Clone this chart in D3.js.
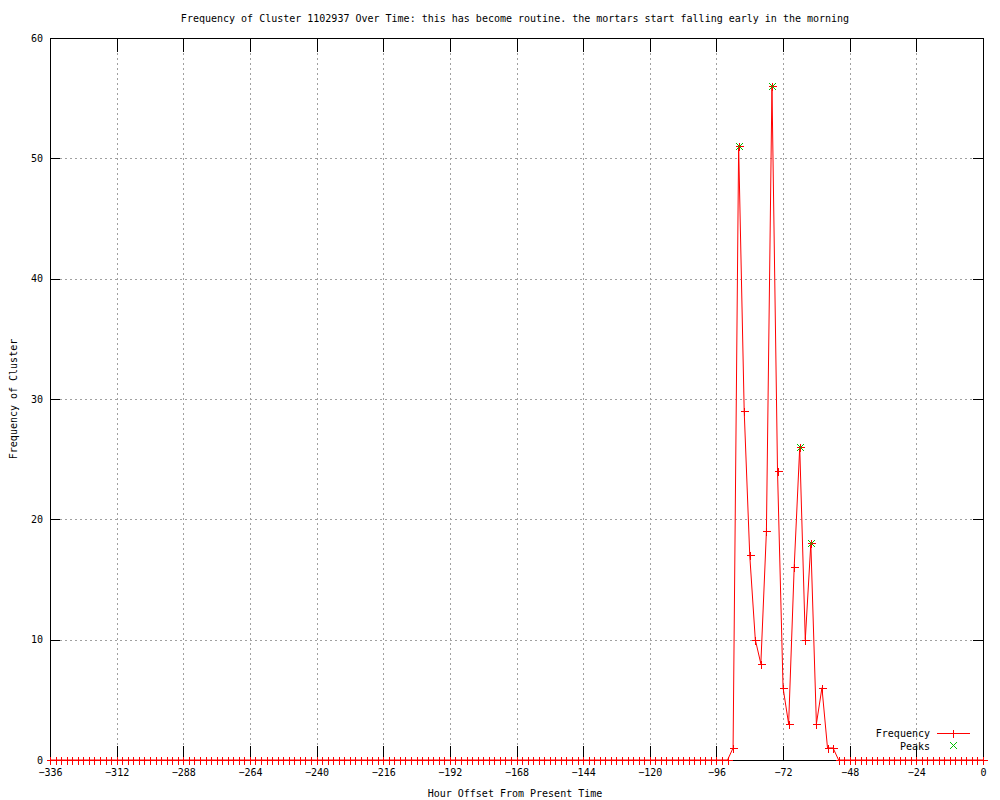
<!DOCTYPE html>
<meta charset="utf-8">
<style>
body { margin: 0; background: #fff; }
text { font-family: "DejaVu Sans Mono", monospace; font-size: 10px; fill: #000; }
.grid line { stroke: #a0a0a0; stroke-width: 1px; stroke-dasharray: 2,3; shape-rendering: crispEdges; }
.axis line { stroke: #000; shape-rendering: crispEdges; }
.axis path { display: none; }
.line { fill: none; stroke: red; stroke-width: 1px; }
</style>
<body>
<script src="https://d3js.org/d3.v7.min.js"></script>
<script>

// hour offsets, one point every 2 hours from -336 to 0
var hours = d3.range(-336, 1, 2);

// frequency per point (169 values, mostly zero)
var freq = [
  0,0,0,0,0,0,0,0,0,0, 0,0,0,0,0,0,0,0,0,0,
  0,0,0,0,0,0,0,0,0,0, 0,0,0,0,0,0,0,0,0,0,
  0,0,0,0,0,0,0,0,0,0, 0,0,0,0,0,0,0,0,0,0,
  0,0,0,0,0,0,0,0,0,0, 0,0,0,0,0,0,0,0,0,0,
  0,0,0,0,0,0,0,0,0,0, 0,0,0,0,0,0,0,0,0,0,
  0,0,0,0,0,0,0,0,0,0, 0,0,0,0,0,0,0,0,0,0,
  0,0,0,1,51,29,17,10,8,19, 56,24,6,3,16,26,10,18,3,6,
  1,1,0,0,0,0,0,0,0,0, 0,0,0,0,0,0,0,0,0,0,
  0,0,0,0,0,0,0,0,0
];

// detected peaks
var peakHours = [-88, -76, -66, -62];
var peakFreq  = [51, 56, 26, 18];

var xTicks = d3.range(-336, 1, 24);
var yTicks = [0, 10, 20, 30, 40, 50, 60];

var titleText = "Frequency of Cluster 1102937 Over Time: this has become routine. the mortars start falling early in the morning";

var margin = {top: 38, right: 17, bottom: 40, left: 50},
    width = 1000 - margin.left - margin.right,
    height = 800 - margin.top - margin.bottom;

var x = d3.scaleLinear().domain([-336, 0]).range([0, width]);
var y = d3.scaleLinear().domain([0, 60]).range([height, 0]);

var svg0 = d3.select("body").append("svg")
    .attr("width", 1000)
    .attr("height", 800);

var svg = svg0.append("g")
    .attr("transform", "translate(" + margin.left + "," + margin.top + ")");

// grid lines
svg.append("g").attr("class", "grid")
  .selectAll("line")
  .data(xTicks.slice(1, -1))
  .enter().append("line")
    .attr("x1", function(d) { return Math.round(x(d)) + 0.5; })
    .attr("x2", function(d) { return Math.round(x(d)) + 0.5; })
    .attr("y1", 0).attr("y2", height);

svg.append("g").attr("class", "grid")
  .selectAll("line")
  .data(yTicks.slice(1, -1))
  .enter().append("line")
    .attr("y1", function(d) { return Math.round(y(d)) + 0.5; })
    .attr("y2", function(d) { return Math.round(y(d)) + 0.5; })
    .attr("x1", 0).attr("x2", width);

// axes (ticks pointing inward), mirrored on top and right
svg.append("g")
    .attr("class", "axis")
    .attr("transform", "translate(0," + height + ")")
    .call(d3.axisBottom(x).tickValues(xTicks).tickSize(-14).tickPadding(9));

svg.append("g")
    .attr("class", "axis")
    .call(d3.axisTop(x).tickValues(xTicks).tickSize(-14).tickFormat(""));

svg.append("g")
    .attr("class", "axis")
    .call(d3.axisLeft(y).tickValues(yTicks).tickSize(-10).tickPadding(7));

svg.append("g")
    .attr("class", "axis")
    .attr("transform", "translate(" + width + ",0)")
    .call(d3.axisRight(y).tickValues(yTicks).tickSize(-10).tickFormat(""));

svg.selectAll(".axis text").style("font-family", "DejaVu Sans Mono").style("font-size", "10px");

// border
svg.append("rect")
    .attr("x", 0.5).attr("y", 0.5)
    .attr("width", width).attr("height", height)
    .style("fill", "none").style("stroke", "#000")
    .style("shape-rendering", "crispEdges");

// frequency line
var data = hours.map(function(h, i) { return {h: h, f: freq[i]}; });

var valueline = d3.line()
    .x(function(d) { return x(d.h); })
    .y(function(d) { return y(d.f); });

svg.append("path")
    .datum(data)
    .attr("class", "line")
    .attr("d", valueline);

function plus(g, cx, cy, color) {
  cx = Math.round(cx) + 0.5; cy = Math.round(cy) + 0.5;
  g.append("path")
    .attr("d", "M" + (cx - 4) + "," + cy + "H" + (cx + 4) + "M" + cx + "," + (cy - 4) + "V" + (cy + 4))
    .style("stroke", color).style("stroke-width", 1).style("fill", "none")
    .style("shape-rendering", "crispEdges");
}
function cross(g, cx, cy, color) {
  cx = Math.round(cx) + 0.5; cy = Math.round(cy) + 0.5;
  g.append("path")
    .attr("d", "M" + (cx - 3.5) + "," + (cy - 3.5) + "L" + (cx + 3.5) + "," + (cy + 3.5) +
               "M" + (cx - 3.5) + "," + (cy + 3.5) + "L" + (cx + 3.5) + "," + (cy - 3.5))
    .style("stroke", color).style("stroke-width", 1).style("fill", "none");
}

var pts = svg.append("g");
data.forEach(function(d) { plus(pts, x(d.h), y(d.f), "red"); });

var pk = svg.append("g");
peakHours.forEach(function(h, i) { cross(pk, x(h), y(peakFreq[i]), "#00c000"); });

// legend
var legend = svg0.append("g");
legend.append("text")
    .attr("x", 930).attr("y", 733).attr("dy", "0.35em")
    .style("text-anchor", "end").text("Frequency");
legend.append("line")
    .attr("x1", 937).attr("x2", 970).attr("y1", 733.5).attr("y2", 733.5)
    .style("stroke", "red").style("shape-rendering", "crispEdges");
plus(legend, 953, 733, "red");
legend.append("text")
    .attr("x", 930).attr("y", 746).attr("dy", "0.35em")
    .style("text-anchor", "end").text("Peaks");
cross(legend, 953, 745, "#00c000");

// title
svg0.append("text")
    .attr("x", 515).attr("y", 18).attr("dy", "0.35em")
    .style("text-anchor", "middle")
    .text(titleText);

// text label for the x axis
svg0.append("text")
    .attr("x", 515).attr("y", 793).attr("dy", "0.35em")
    .style("text-anchor", "middle")
    .text("Hour Offset From Present Time");

// text label for the y axis
svg0.append("text")
    .attr("transform", "translate(13," + 399 + ") rotate(-90)")
    .attr("dy", "0.35em")
    .style("text-anchor", "middle")
    .text("Frequency of Cluster");

</script>
</body>
